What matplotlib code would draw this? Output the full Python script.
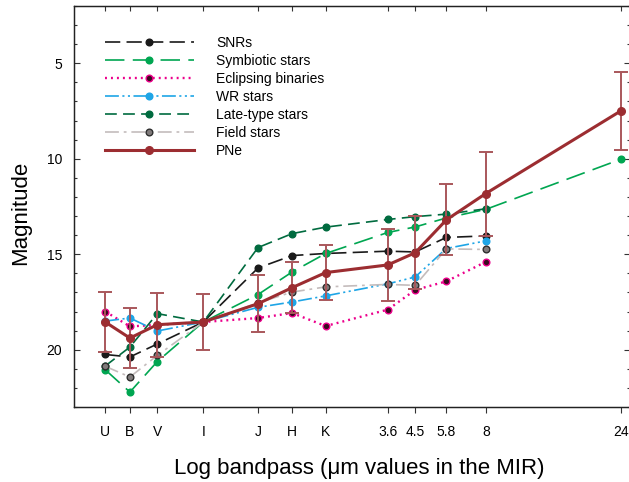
import matplotlib
matplotlib.use("Agg")
import matplotlib.pyplot as plt
from matplotlib.ticker import NullLocator, FixedLocator, MultipleLocator

plt.rcParams['font.family'] = ['Liberation Sans', 'DejaVu Sans']
plt.rcParams['lines.scale_dashes'] = False

# Photometric bands and their central wavelengths (micron)
bands = ['U', 'B', 'V', 'I', 'J', 'H', 'K', '3.6', '4.5', '5.8', '8', '24']
wavelength_um = [0.36, 0.44, 0.55, 0.80, 1.25, 1.65, 2.17, 3.6, 4.5, 5.8, 8.0, 24.0]

# Mean magnitudes per object class (first N bands)
snr = [20.25, 20.38, 19.70, 18.55, 15.72, 15.07, 14.96, 14.84, 14.88, 14.12, 14.04]
symbiotic = [21.05, 22.22, 20.62, 18.55, 17.11, 15.93, 14.96, 13.86, 13.57, 13.10, 12.65, 10.03]
eclipsing = [18.00, 18.78, 18.70, 18.55, 18.34, 18.08, 18.76, 17.90, 16.87, 16.42, 15.40]
wr_stars = [18.50, 18.34, 19.02, 18.55, 17.78, 17.50, 17.18, 16.55, 16.19, 14.70, 14.30]
late_type = [20.85, 19.86, 18.11, 18.55, 14.65, 13.92, 13.58, 13.18, 13.03, 12.90, 12.62]
field_stars = [20.87, 21.43, 20.30, 18.55, 17.55, 16.98, 16.71, 16.58, 16.63, 14.72, 14.75]
pne = [18.55, 19.39, 18.69, 18.55, 17.59, 16.75, 15.96, 15.56, 14.92, 13.20, 11.82, 7.50]
pne_err = [1.55, 1.57, 1.67, 1.47, 1.50, 1.33, 1.44, 1.87, 1.90, 1.86, 2.20, 2.02]

fig = plt.figure(figsize=(6.29, 4.82), dpi=100)
ax = fig.add_axes([74 / 629, 1 - 407 / 482, 555.5 / 629, 401 / 482])

ms = 4.8
series = [
    dict(y=snr, label='SNRs', color='#1a1a1a', dashes=(11, 4.5), lw=1.2,
         mfc='#1a1a1a', mec='#1a1a1a'),
    dict(y=symbiotic, label='Symbiotic stars', color='#00a651', dashes=(14, 6), lw=1.2,
         mfc='#00a651', mec='#00a651'),
    dict(y=eclipsing, label='Eclipsing binaries', color='#ec008c', dashes=(1.4, 2.9), lw=1.7,
         mfc='#3a0a1e', mec='#ec008c'),
    dict(y=wr_stars, label='WR stars', color='#1ea5e6', dashes=(10, 2.5, 1.5, 2.5, 1.5, 2.5), lw=1.2,
         mfc='#1ea5e6', mec='#1ea5e6'),
    dict(y=late_type, label='Late-type stars', color='#006b3f', dashes=(8.5, 4.5), lw=1.2,
         mfc='#006b3f', mec='#006b3f'),
    dict(y=field_stars, label='Field stars', color='#c4bcbc', dashes=(10, 3.5, 2, 3.5), lw=1.2,
         mfc='#7f7a7a', mec='#2e2e2e'),
]

for s in series:
    n = len(s['y'])
    ax.plot(wavelength_um[:n], s['y'], color=s['color'], lw=s['lw'], dashes=s['dashes'],
            marker='o', ms=ms, mfc=s['mfc'], mec=s['mec'], mew=1.0, label=s['label'])

ax.errorbar(wavelength_um, pne, yerr=pne_err, fmt='none', ecolor='#a9575b',
            elinewidth=1.4, capsize=5, capthick=1.4, zorder=3)
ax.plot(wavelength_um, pne, color='#9c2d31', lw=2.2, marker='o', ms=5.5,
        mfc='#9c2d31', mec='#9c2d31', label='PNe', zorder=4)

ax.set_xscale('log')
ax.set_xlim(0.279, 25.8)
ax.set_ylim(23, 2)

ax.xaxis.set_major_locator(FixedLocator(wavelength_um))
ax.xaxis.set_minor_locator(NullLocator())
ax.set_xticklabels(bands)
ax.yaxis.set_major_locator(FixedLocator([5, 10, 15, 20]))
ax.yaxis.set_minor_locator(MultipleLocator(1))

ax.tick_params(axis='x', which='major', direction='out', length=4.3, width=0.8,
               pad=8.5, labelsize=10, color='#333333')
ax.tick_params(axis='y', which='both', direction='in', left=True, right=True,
               width=0.8, labelsize=10, pad=8.5, color='#333333')
ax.tick_params(axis='y', which='major', length=4.0)
ax.tick_params(axis='y', which='minor', length=2.5)

top = ax.twiny()
top.set_xscale('log')
top.set_xlim(ax.get_xlim())
top.xaxis.set_major_locator(FixedLocator(wavelength_um))
top.xaxis.set_minor_locator(NullLocator())
top.set_xticklabels([])
top.tick_params(axis='x', direction='in', length=3.6, width=0.8, color='#333333')

for a in (ax, top):
    for sp in a.spines.values():
        sp.set_linewidth(0.9)
        sp.set_color('#222222')

ax.set_xlabel('Log bandpass (\u03bcm values in the MIR)', fontsize=16)
ax.xaxis.set_label_coords(0.513, -0.128)
ax.xaxis.label.set_verticalalignment('top')
ax.set_ylabel('Magnitude', fontsize=16)
ax.yaxis.set_label_coords(-0.077, 0.484)

ax.legend(loc='upper left', bbox_to_anchor=(0.0558, 0.925), frameon=False,
          fontsize=10, handlelength=6.4, handletextpad=1.6, labelspacing=0.29,
          borderpad=0, borderaxespad=0, numpoints=1)

fig.savefig('out.png', dpi=100)
